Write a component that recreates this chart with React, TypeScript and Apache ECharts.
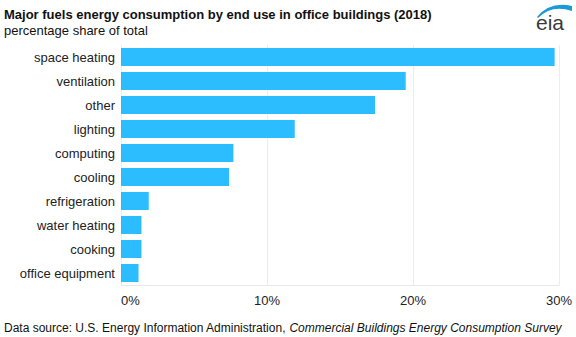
import React, { useEffect, useRef } from "react";
import * as echarts from "echarts";

const categories = [
  "space heating",
  "ventilation",
  "other",
  "lighting",
  "computing",
  "cooling",
  "refrigeration",
  "water heating",
  "cooking",
  "office equipment",
];
const shares = [29.7, 19.5, 17.4, 11.9, 7.7, 7.4, 1.9, 1.4, 1.4, 1.2];
const xTicks = { min: 0, max: 30, interval: 10 };

const titleText = "Major fuels energy consumption by end use in office buildings (2018)";
const subtitleText = "percentage share of total";
const sourcePlain = "Data source: U.S. Energy Information Administration, ";
const sourceItalic = "Commercial Buildings Energy Consumption Survey";

const FONT = "Liberation Sans, Arial, sans-serif";

let registered = false;
function registerLogo() {
  if (registered) return;
  registered = true;
  echarts.graphic.registerShape(
    "eiaSwoosh",
    echarts.graphic.extendPath(
      "M 537 17 Q 550 1 572 6 L 572 11 Q 552 4 538 18 Z",
      {}
    ) as any
  );
}

export default function App() {
  const ref = useRef<HTMLDivElement>(null);
  useEffect(() => {
    document.body.style.margin = "0";
    registerLogo();
    const chart = echarts.init(ref.current!, null, { renderer: "svg" });
    chart.setOption({
      animation: false,
      grid: { left: 121, right: 17, top: 45, bottom: 52, containLabel: false },
      xAxis: {
        type: "value",
        min: xTicks.min,
        max: xTicks.max,
        interval: xTicks.interval,
        axisLine: { show: true, lineStyle: { color: "#e8e8e8" } },
        axisTick: { show: false },
        splitLine: { show: true, lineStyle: { color: "#ececec" } },
        axisLabel: {
          formatter: "{value}%",
          color: "#222",
          fontSize: 13,
          fontFamily: FONT,
          margin: 9,
          alignMinLabel: "left",
        },
      },
      yAxis: {
        type: "category",
        inverse: true,
        data: categories,
        axisLine: { show: false },
        axisTick: { show: false },
        axisLabel: { color: "#222", fontSize: 13, fontFamily: FONT, margin: 6 },
      },
      series: [
        {
          type: "bar",
          data: shares,
          barCategoryGap: "25%",
          itemStyle: { color: "#2bbdff" },
        },
      ],
      graphic: [
        {
          type: "text",
          left: 4,
          top: 8,
          style: { text: titleText, font: `bold 13px ${FONT}`, fill: "#111" },
        },
        {
          type: "text",
          left: 4,
          top: 24,
          style: { text: subtitleText, font: `13px ${FONT}`, fill: "#111" },
        },
        {
          type: "text",
          left: 4,
          top: 322,
          style: {
            text: `{n|${sourcePlain}}{i|${sourceItalic}}`,
            rich: {
              n: { font: `12px ${FONT}`, fill: "#111" },
              i: { font: `italic 12px ${FONT}`, fill: "#111" },
            },
          },
        },
        {
          type: "eiaSwoosh",
          x: 0,
          y: 0,
          style: { fill: "#1a9ad6" },
        },
        {
          type: "text",
          x: 536,
          y: 22,
          style: {
            text: "eia",
            font: `21px ${FONT}`,
            fill: "#3a3a3a",
            textVerticalAlign: "middle",
          },
        },
      ],
    });
    return () => chart.dispose();
  }, []);
  return <div ref={ref} style={{ width: 576, height: 337 }} />;
}
